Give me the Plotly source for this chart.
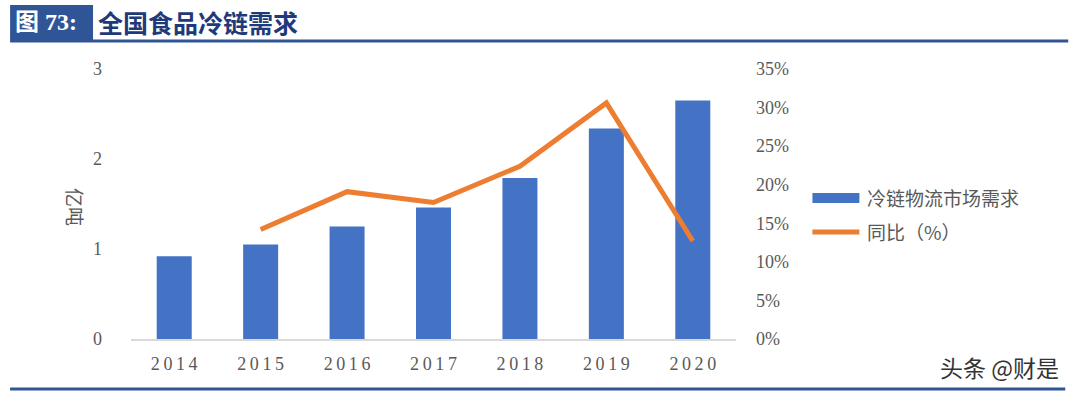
import plotly.graph_objects as go

years = ["2014", "2015", "2016", "2017", "2018", "2019", "2020"]
year_labels = ["2\u20090\u20091\u20094", "2\u20090\u20091\u20095", "2\u20090\u20091\u20096",
               "2\u20090\u20091\u20097", "2\u20090\u20091\u20098", "2\u20090\u20091\u20099",
               "2\u20090\u20092\u20090"]
demand = [0.92, 1.05, 1.25, 1.46, 1.79, 2.34, 2.65]
yoy_years = ["2015", "2016", "2017", "2018", "2019", "2020"]
yoy = [0.142, 0.191, 0.177, 0.224, 0.306, 0.127]
left_ticks = [0, 1, 2, 3]
right_ticks = [0, 0.05, 0.10, 0.15, 0.20, 0.25, 0.30, 0.35]

W, H = 1079, 397
L, R, T, B = 131, 736.5, 69, 339

def px(x):
    return (x - L) / (R - L)

def py(y):
    return (B - y) / (B - T)

fig = go.Figure()
fig.add_trace(go.Bar(x=years, y=demand, name="冷链物流市场需求",
                     marker=dict(color="#4472C4", line=dict(width=0)), yaxis="y"))
fig.add_trace(go.Scatter(x=yoy_years, y=yoy, name="同比（%）", mode="lines",
                         line=dict(color="#ED7D31", width=5), yaxis="y2"))

tickfont = dict(family="Liberation Serif, Noto Sans CJK SC", size=18, color="#595959")

fig.update_layout(
    width=W, height=H,
    margin=dict(l=L, r=W - R, t=T, b=H - B),
    paper_bgcolor="white", plot_bgcolor="white",
    showlegend=False,
    bargap=0.595,
    xaxis=dict(type="category", showgrid=False, showline=True, linecolor="#D9D9D9",
               linewidth=1.5, ticks="", tickfont=tickfont, ticklabelstandoff=8,
               tickvals=years, ticktext=year_labels),
    yaxis=dict(range=[0, 3], tickvals=left_ticks, showgrid=False, zeroline=False,
               showline=False, tickfont=tickfont, ticklabelstandoff=28),
    yaxis2=dict(range=[0, 0.35], tickvals=right_ticks, tickformat=".0%", overlaying="y",
                side="right", showgrid=False, zeroline=False, showline=False,
                tickfont=tickfont, ticklabelstandoff=19),
)

shapes = []
annotations = []
# header box and lines
shapes.append(dict(type="rect", xref="paper", yref="paper", x0=px(10), x1=px(93),
                   y0=py(40), y1=py(5), fillcolor="#2F5597", line=dict(width=0), layer="above"))
shapes.append(dict(type="line", xref="paper", yref="paper", x0=px(10), x1=px(1069),
                   y0=py(41), y1=py(41), line=dict(color="#2F5597", width=3)))
shapes.append(dict(type="line", xref="paper", yref="paper", x0=px(10), x1=px(1066),
                   y0=py(389), y1=py(389), line=dict(color="#2F5597", width=3)))
annotations.append(dict(xref="paper", yref="paper", x=px(13), y=py(22), xanchor="left",
                        yanchor="middle", showarrow=False,
                        text="<b>图 73:</b>",
                        font=dict(family="Liberation Serif, Noto Sans CJK SC", size=24, color="white")))
annotations.append(dict(xref="paper", yref="paper", x=px(96), y=py(22), xanchor="left",
                        yanchor="middle", showarrow=False,
                        text="<b>全国食品冷链需求</b>",
                        font=dict(family="Noto Sans CJK SC", size=25, color="#1F3A7A")))
# y axis title
annotations.append(dict(xref="paper", yref="paper", x=px(76), y=py(207), xanchor="center",
                        yanchor="middle", showarrow=False, textangle=90, text="亿吨",
                        font=dict(family="Noto Sans CJK SC", size=19, color="#595959")))
# legend
shapes.append(dict(type="rect", xref="paper", yref="paper", x0=px(813), x1=px(860),
                   y0=py(203), y1=py(193), fillcolor="#4472C4", line=dict(width=0)))
shapes.append(dict(type="line", xref="paper", yref="paper", x0=px(813), x1=px(860),
                   y0=py(232), y1=py(232), line=dict(color="#ED7D31", width=5)))
annotations.append(dict(xref="paper", yref="paper", x=px(866), y=py(197), xanchor="left",
                        yanchor="middle", showarrow=False, text="冷链物流市场需求",
                        font=dict(family="Noto Sans CJK SC", size=19, color="#595959")))
annotations.append(dict(xref="paper", yref="paper", x=px(866), y=py(232), xanchor="left",
                        yanchor="middle", showarrow=False, text="同比（%）",
                        font=dict(family="Noto Sans CJK SC", size=19, color="#595959")))
# watermark
annotations.append(dict(xref="paper", yref="paper", x=px(1062), y=py(367), xanchor="right",
                        yanchor="middle", showarrow=False, text="头条 @财是",
                        font=dict(family="Noto Sans CJK SC", size=23, color="#333333")))

fig.update_layout(shapes=shapes, annotations=annotations)
fig.write_html(
    "out.html",
    config={"displayModeBar": False},
    post_script="document.body.style.margin='0';document.body.style.padding='0';"
                "document.body.style.overflow='hidden';",
)
